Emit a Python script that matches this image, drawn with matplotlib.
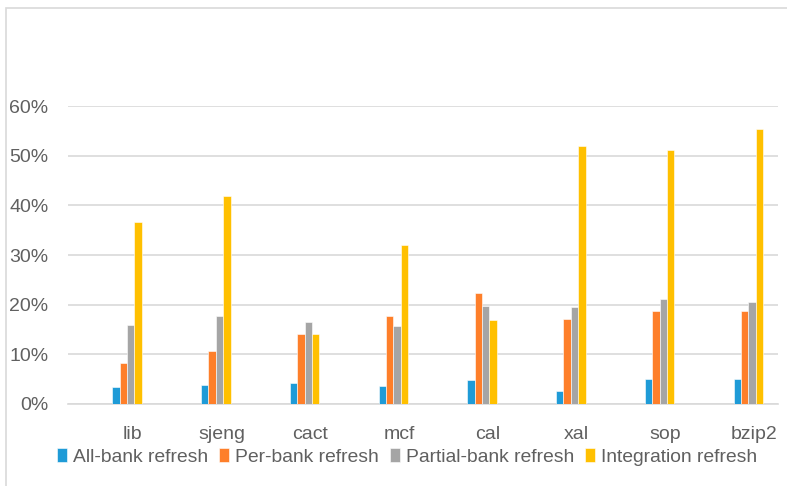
import matplotlib.pyplot as plt
import numpy as np
from matplotlib.patches import Rectangle
from matplotlib.ticker import PercentFormatter

benchmarks = ['lib', 'sjeng', 'cact', 'mcf', 'cal', 'xal', 'sop', 'bzip2']
series_names = ['All-bank refresh', 'Per-bank refresh', 'Partial-bank refresh', 'Integration refresh']
all_bank = [3.3, 3.8, 4.2, 3.6, 4.8, 2.5, 5.0, 5.0]
per_bank = [8.1, 10.6, 14.1, 17.7, 22.4, 17.1, 18.7, 18.6]
partial_bank = [15.9, 17.6, 16.4, 15.6, 19.7, 19.4, 21.1, 20.6]
integration = [36.7, 42.0, 14.1, 32.1, 16.9, 52.0, 51.3, 55.4]
colors = ['#1f9bd7', '#fe7f2a', '#a5a5a5', '#ffc000']

plt.rcParams['font.family'] = ['Liberation Sans', 'DejaVu Sans']
text_color = '#606060'

fig = plt.figure(figsize=(7.87, 4.86), dpi=100)
W, H = 787, 486
ax = fig.add_axes([68 / W, 1 - 403.5 / H, 710 / W, 297 / H])

x = np.arange(len(benchmarks))
w = 0.083
for k, (vals, c) in enumerate(zip([all_bank, per_bank, partial_bank, integration], colors)):
    ax.bar(x + (k + 0.5) * w, vals, w, color=c, edgecolor='white', linewidth=0.4,
           label=series_names[k], zorder=3)

ax.set_xlim(-0.5, len(benchmarks) - 0.5)
ax.set_ylim(0, 60)
ax.set_yticks(np.arange(0, 61, 10))
ax.yaxis.set_major_formatter(PercentFormatter(decimals=0))
ax.set_xticks(x + 0.23)
ax.set_xticklabels(benchmarks)
ax.grid(axis='y', color='#d9d9d9', linewidth=1.2, zorder=0)
ax.tick_params(length=0, labelsize=14, colors=text_color)
ax.tick_params(axis='x', pad=16)
ax.tick_params(axis='y', pad=14)
for side in ['top', 'right', 'left']:
    ax.spines[side].set_visible(False)
ax.spines['bottom'].set_color('#d9d9d9')
ax.spines['bottom'].set_linewidth(1.2)

fig.legend(loc='center', bbox_to_anchor=(407 / W, 1 - 457 / H), ncol=4, frameon=False,
           fontsize=13.9, labelcolor=text_color, handlelength=0.55, handleheight=0.7,
           handletextpad=0.3, columnspacing=0.55, borderpad=0)

# outer chart frame
fig.patches.append(Rectangle((6 / W, -0.1), 1.1, 1 - 8 / H + 0.1, transform=fig.transFigure,
                             fill=False, edgecolor='#d9d9d9', linewidth=1.2))

fig.savefig('out.png', dpi=100)
